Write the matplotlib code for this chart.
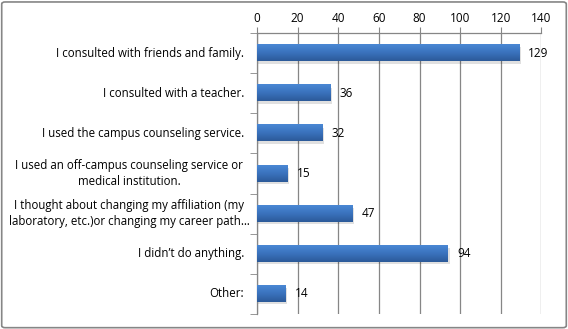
import numpy as np
import matplotlib.pyplot as plt
from matplotlib.colors import LinearSegmentedColormap
from matplotlib.patches import FancyBboxPatch
from matplotlib.transforms import blended_transform_factory

categories = [
    "I consulted with friends and family.",
    "I consulted with a teacher.",
    "I used the campus counseling service.",
    "I used an off-campus counseling service or\nmedical institution.",
    "I thought about changing my affiliation (my\nlaboratory, etc.)or changing my career path\u2026",
    "I didn\u2019t do anything.",
    "Other:",
]
counts = [129, 36, 32, 15, 47, 94, 14]
xticks = [0, 20, 40, 60, 80, 100, 120, 140]

plt.rcParams['font.family'] = ['Open Sans', 'DejaVu Sans']

W, H = 568, 329
fig = plt.figure(figsize=(W / 100, H / 100), dpi=100)
ax = fig.add_axes([0.4525, 0.0456, 0.5008, 0.8541])

n = len(categories)
ypos = np.arange(n)
bar_h = 0.4

# gradient fill for bars, light on top, dark at the bottom
grad = LinearSegmentedColormap.from_list("bar", ["#4a88d4", "#3a72bd", "#2c5a99"])
g = np.linspace(0, 1, 64).reshape(-1, 1)
for y, v in zip(ypos, counts):
    # soft shadow under each bar
    ax.barh(y + 0.06, v + 0.8, height=bar_h, left=0, color="#000000",
            alpha=0.12, zorder=2, linewidth=0)
    ax.imshow(g, cmap=grad, aspect="auto", interpolation="bilinear",
              extent=(0, v, y + bar_h / 2, y - bar_h / 2), zorder=3)
    ax.text(v + 4.5, y, str(v), va="center", ha="left", fontsize=8.5,
            color="#000000", zorder=4)

ax.set_xlim(0, 140)
ax.set_ylim(n - 0.5, -0.5)
ax.xaxis.tick_top()
ax.set_xticks(xticks)
ax.set_xticklabels([str(t) for t in xticks], fontsize=8.5)
ax.tick_params(axis="x", length=4, color="#868686", pad=2)
ax.grid(axis="x", color="#868686", linewidth=0.9, zorder=0)
ax.set_axisbelow(True)

# category labels: one-liners flush right, wrapped ones centred in the label box
ax.set_yticks([])
ax.set_yticks(np.arange(n + 1) - 0.5, minor=True)
ax.tick_params(axis="y", which="minor", length=5, color="#868686")
trans = blended_transform_factory(fig.transFigure, ax.transData)
for y, lab in zip(ypos, categories):
    if "\n" in lab:
        ax.text(129 / W, y, lab, transform=trans, ha="center", va="center",
                multialignment="center", fontsize=8.3, linespacing=1.25)
    else:
        ax.text(244 / W, y, lab, transform=trans, ha="right", va="center",
                fontsize=8.3)

for side in ["right", "bottom"]:
    ax.spines[side].set_visible(False)
for side in ["top", "left"]:
    ax.spines[side].set_color("#868686")
    ax.spines[side].set_linewidth(0.9)

# outer chart border
border = FancyBboxPatch((0.003, 0.004), 0.994, 0.99, boxstyle="round,pad=0,rounding_size=0.006",
                        transform=fig.transFigure, fill=False, edgecolor="#868686",
                        linewidth=1.2)
fig.patches.append(border)

fig.savefig("out.png", dpi=100)
